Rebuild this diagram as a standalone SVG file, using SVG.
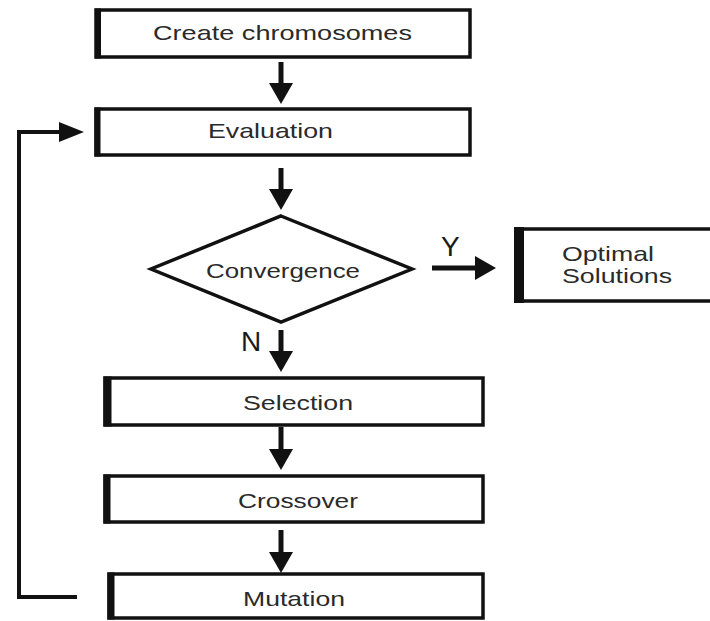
<svg xmlns="http://www.w3.org/2000/svg" width="710" height="621" viewBox="0 0 710 621">
  <style>
    .box { fill: #ffffff; stroke: #111111; stroke-width: 3.5; }
    .edge { fill: #111111; }
    .lbl { font-family: "Liberation Sans", Arial, sans-serif; font-size: 21px; fill: #2a2a2a; }
    .big { font-family: "Liberation Sans", Arial, sans-serif; font-size: 28px; fill: #1a1a1a; }
    .flow { fill: none; stroke: #111111; stroke-width: 5; }
    .loop { fill: none; stroke: #111111; stroke-width: 4; }
  </style>
  <defs>
    <marker id="head" markerUnits="userSpaceOnUse" markerWidth="24" markerHeight="26" refX="1" refY="12" orient="auto">
      <path d="M0,0 L21,12 L0,24 Z" fill="#111111"/>
    </marker>
    <marker id="headSmall" markerUnits="userSpaceOnUse" markerWidth="26" markerHeight="22" refX="1" refY="10" orient="auto">
      <path d="M0,0 L25,10 L0,20 Z" fill="#111111"/>
    </marker>
  </defs>

  <rect width="710" height="621" fill="#ffffff"/>

  <!-- connectors -->
  <g id="connectors">
    <line class="flow" x1="281" y1="62" x2="281" y2="84" marker-end="url(#head)"/>
    <line class="flow" x1="281" y1="168" x2="281" y2="190" marker-end="url(#head)"/>
    <line class="flow" x1="281" y1="330" x2="281" y2="352" marker-end="url(#head)"/>
    <line class="flow" x1="281" y1="427" x2="281" y2="450" marker-end="url(#head)"/>
    <line class="flow" x1="281" y1="530" x2="281" y2="553" marker-end="url(#head)"/>
    <line class="flow" x1="432" y1="268" x2="476" y2="268" marker-end="url(#head)"/>
    <polyline class="loop" points="77,597 19,597 19,132 60,132" marker-end="url(#headSmall)"/>
    <text class="big" x="441" y="256">Y</text>
    <text class="big" x="241" y="351">N</text>
  </g>

  <g id="create">
    <rect class="box" x="96" y="10" width="374" height="47"/>
    <rect class="edge" x="95" y="8.5" width="6" height="50"/>
    <text class="lbl" x="153" y="40" textLength="259" lengthAdjust="spacingAndGlyphs">Create chromosomes</text>
  </g>

  <g id="evaluation">
    <rect class="box" x="96" y="109" width="374" height="46"/>
    <rect class="edge" x="94.5" y="107.5" width="6" height="49"/>
    <text class="lbl" x="208" y="138" textLength="125" lengthAdjust="spacingAndGlyphs">Evaluation</text>
  </g>

  <g id="convergence">
    <polygon class="box" points="281,216 412,269 281,322 151,269"/>
    <text class="lbl" x="206" y="278" textLength="154" lengthAdjust="spacingAndGlyphs">Convergence</text>
  </g>

  <g id="optimal">
    <rect class="box" x="516" y="229" width="200" height="72"/>
    <rect class="edge" x="514" y="227" width="10" height="76"/>
    <text class="lbl" x="562" y="261" font-size="22" textLength="92" lengthAdjust="spacingAndGlyphs">Optimal</text>
    <text class="lbl" x="562" y="283" font-size="22" textLength="110" lengthAdjust="spacingAndGlyphs">Solutions</text>
  </g>

  <g id="selection">
    <rect class="box" x="105" y="378" width="378" height="47"/>
    <rect class="edge" x="103.5" y="376.5" width="8" height="50"/>
    <text class="lbl" x="243" y="410" textLength="110" lengthAdjust="spacingAndGlyphs">Selection</text>
  </g>

  <g id="crossover">
    <rect class="box" x="105" y="476" width="378" height="46"/>
    <rect class="edge" x="103.5" y="474.5" width="7" height="49"/>
    <text class="lbl" x="238" y="508" textLength="120" lengthAdjust="spacingAndGlyphs">Crossover</text>
  </g>

  <g id="mutation">
    <rect class="box" x="109" y="574" width="374" height="44"/>
    <rect class="edge" x="107.5" y="572.5" width="7" height="47"/>
    <text class="lbl" x="243" y="606" textLength="102" lengthAdjust="spacingAndGlyphs">Mutation</text>
  </g>
</svg>
